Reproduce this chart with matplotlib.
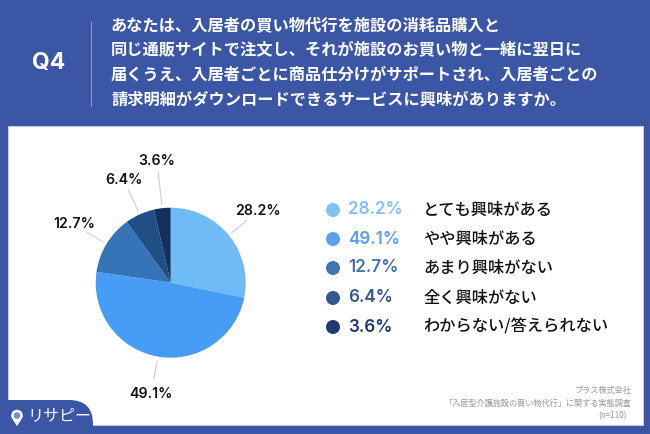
import matplotlib
matplotlib.use("Agg")
import matplotlib.pyplot as plt
import numpy as np
from matplotlib.patches import Rectangle, FancyBboxPatch, Circle, Polygon

JP = ['Noto Sans CJK JP', 'DejaVu Sans']
LAT = ['Inter', 'Liberation Sans', 'DejaVu Sans']

question_no = "Q4"
question_lines = [
    "あなたは、入居者の買い物代行を施設の消耗品購入と",
    "同じ通販サイトで注文し、それが施設のお買い物と一緒に翌日に",
    "届くうえ、入居者ごとに商品仕分けがサポートされ、入居者ごとの",
    "請求明細がダウンロードできるサービスに興味がありますか。",
]
categories = ["とても興味がある", "やや興味がある", "あまり興味がない", "全く興味がない", "わからない/答えられない"]
values = [28.2, 49.1, 12.7, 6.4, 3.6]
footer_lines = ["プラス株式会社", "「入居型介護施設の買い物代行」に関する実態調査", "(n=110)"]
logo_text = "リサピー"

pie_colors = ["#6FBBF8", "#469DF5", "#3575B7", "#1F4F85", "#12315F"]
dot_colors = ["#84BFF6", "#5C9FEE", "#4474AE", "#33578F", "#1E3A6E"]
BG = "#3A56A5"
H = 434

fig = plt.figure(figsize=(6.5, 4.34), dpi=100, facecolor=BG)
ax = fig.add_axes([0, 0, 1, 1])
ax.set_facecolor(BG)


def Y(p):
    return H - p


# panel
ax.add_patch(Rectangle((8, Y(425)), 635, 299, fc="white", ec="#C8D5EE", lw=0.6, zorder=1))
ax.add_patch(FancyBboxPatch((-40, -40), 133, Y(400) + 40, boxstyle="round,pad=0,rounding_size=24",
                            fc=BG, ec="none", zorder=2))

# header
ax.text(49, Y(63), question_no, color="white", fontsize=16.5, fontweight="bold", family=LAT,
        ha="center", va="center", zorder=3)
ax.plot([90.5, 90.5], [Y(22), Y(106)], color="#8C9DCB", lw=0.8, zorder=3)
for py, line in zip([25, 50, 75, 99], question_lines):
    ax.text(111, Y(py), line, color="white", fontsize=11.7, fontweight="bold", family=JP,
            ha="left", va="center", zorder=3)

# pie
cx, cy, R = 170.7, Y(282.7), 75
wedges, _ = ax.pie(values, colors=pie_colors, startangle=90, counterclock=False,
                   center=(cx, cy), radius=R, wedgeprops=dict(linewidth=0))
for w in wedges:
    w.set_zorder(3)

leader_end = [98, 98, 98, 102, 112]
label_r = [113, 113, 113, 113, 122]
for w, v, re, rl in zip(wedges, values, leader_end, label_r):
    a = np.deg2rad((w.theta1 + w.theta2) / 2)
    u = np.array([np.cos(a), np.sin(a)])
    ax.plot([cx + 79 * u[0], cx + re * u[0]], [cy + 79 * u[1], cy + re * u[1]],
            color="#CFCFCF", lw=0.8, zorder=3)
    ax.text(cx + rl * u[0], cy + rl * u[1], f"{v}%", fontsize=10.2, family=LAT, color="#111111",
            fontweight="semibold", ha="center", va="center", zorder=4)

# legend
rows = [210, 239, 268, 298, 327]
ax.scatter([333] * 5, [Y(r) for r in rows], s=(14 * 0.72) ** 2, c=dot_colors, linewidths=0, zorder=4)
for r, c, v, cat in zip(rows, dot_colors, values, categories):
    ax.text(348, Y(r), f"{v}%", color=c, fontsize=12.3, family=LAT, fontweight="semibold",
            ha="left", va="center", zorder=4)
    ax.text(423, Y(r), cat, color="#111111", fontsize=11.7, family=JP, fontweight="medium",
            ha="left", va="center", zorder=4)

# footer
for py, line, x in zip([391, 403, 416], footer_lines, [632, 632, 627]):
    ax.text(x, Y(py), line, color="#9A9A9A", fontsize=5.9, family=JP, ha="right", va="center", zorder=4)

# logo
ax.add_patch(Polygon([(13, Y(420)), (21, Y(420)), (17, Y(426))], fc="white", ec="none", zorder=4))
ax.add_patch(Circle((17, Y(415.5)), 5.8, fc="white", ec="none", zorder=5))
ax.add_patch(Circle((17, Y(415.5)), 3.3, fc="#7C8FC6", ec="none", zorder=6))
ax.text(27, Y(416), logo_text, color="white", fontsize=11.5, family=JP, ha="left", va="center", zorder=4)

ax.set_xlim(0, 650)
ax.set_ylim(0, H)
ax.set_aspect("auto")
ax.axis("off")
fig.savefig("out.png", dpi=100, facecolor=BG)
